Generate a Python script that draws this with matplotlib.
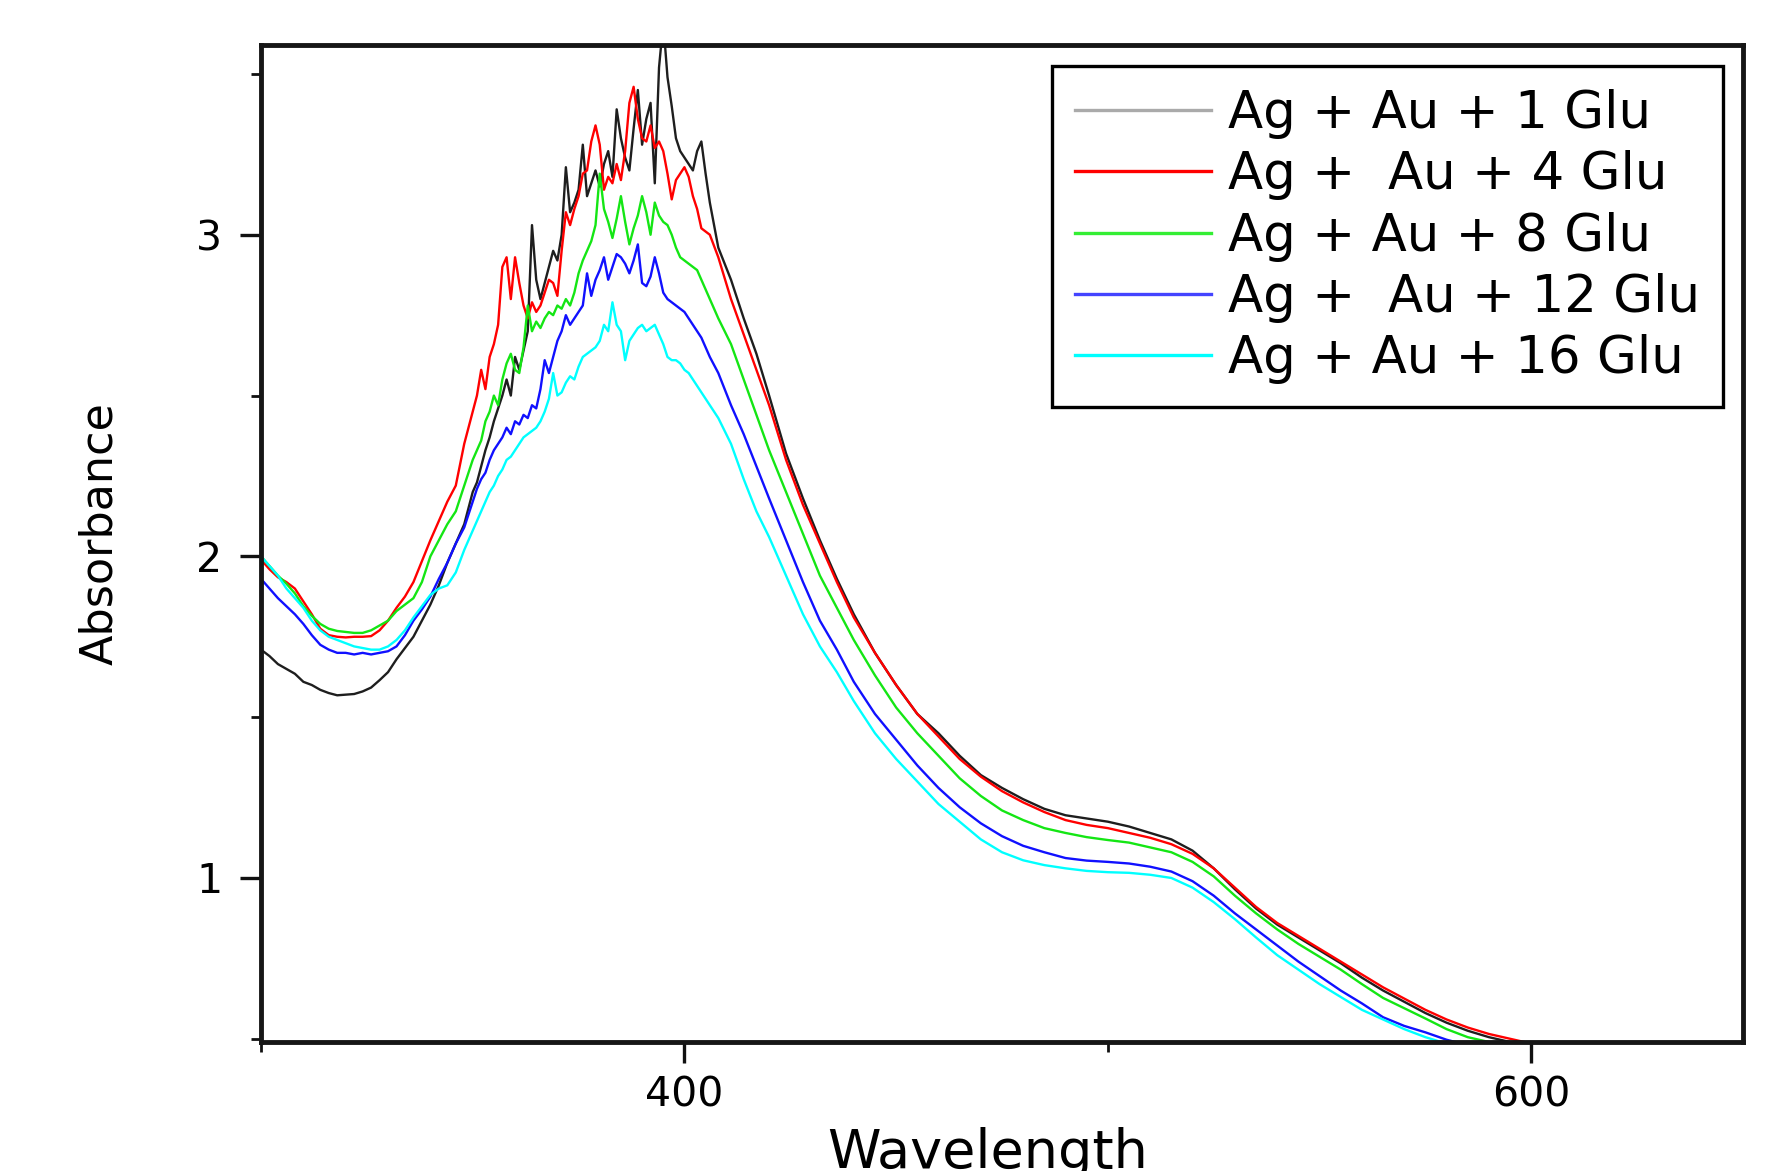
import matplotlib
matplotlib.use("Agg")
import matplotlib.pyplot as plt
from matplotlib.ticker import MultipleLocator

# wavelength grid (nm): coarse on the left, 1 nm through the noisy peak, coarse tail
wavelength = [
    300, 302, 304, 306, 308, 310, 312, 314, 316, 318, 320, 322, 324, 326, 328,
    330, 332, 334, 336, 338, 340, 342, 344, 346, 348, 350,
    351, 352, 353, 354, 355, 356, 357, 358, 359, 360, 361, 362, 363, 364, 365,
    366, 367, 368, 369, 370, 371, 372, 373, 374, 375, 376, 377, 378, 379, 380,
    381, 382, 383, 384, 385, 386, 387, 388, 389, 390, 391, 392, 393, 394, 395,
    396, 397, 398, 399, 400, 401, 402, 403, 404, 405, 406,
    408, 411, 414, 417, 420, 424, 428, 432, 436, 440,
    445, 450, 455, 460, 465, 470, 475, 480, 485, 490, 495, 500, 505, 510, 515,
    520, 525, 530, 535, 540, 545, 550, 555, 560, 565, 570, 575, 580, 585, 590,
    595, 600,
]

abs_1glu = [
    1.71, 1.69, 1.665, 1.65, 1.635, 1.61, 1.60, 1.585, 1.575, 1.568, 1.57, 1.572, 1.58,
    1.592, 1.615, 1.64, 1.68, 1.715, 1.75, 1.80, 1.85, 1.91, 1.98, 2.04, 2.10, 2.20,
    2.23, 2.28, 2.33, 2.37, 2.42, 2.46, 2.50, 2.55, 2.50, 2.62,
    2.58, 2.64, 2.70, 3.03, 2.86, 2.80, 2.85, 2.90, 2.95, 2.92,
    3.00, 3.21, 3.07, 3.10, 3.14, 3.28, 3.12, 3.16, 3.20, 3.15,
    3.22, 3.26, 3.18, 3.39, 3.30, 3.24, 3.20, 3.33, 3.45, 3.28,
    3.36, 3.41, 3.16, 3.52, 3.66, 3.49, 3.40, 3.30, 3.26, 3.24,
    3.22, 3.20, 3.26, 3.29, 3.19, 3.10,
    2.96, 2.86, 2.74, 2.63, 2.50, 2.32, 2.18, 2.05, 1.93, 1.82,
    1.70, 1.60, 1.51, 1.45, 1.38, 1.32, 1.28, 1.245, 1.215, 1.195, 1.185, 1.175,
    1.16, 1.14, 1.12, 1.085, 1.03, 0.965, 0.905, 0.855, 0.815, 0.775, 0.735, 0.69,
    0.65, 0.615, 0.58, 0.55, 0.525, 0.505, 0.49, 0.47,
]

abs_4glu = [
    1.99, 1.96, 1.935, 1.92, 1.90, 1.86, 1.82, 1.775, 1.755, 1.75, 1.748, 1.75, 1.75,
    1.752, 1.77, 1.80, 1.84, 1.875, 1.92, 1.985, 2.05, 2.11, 2.17, 2.22, 2.35, 2.45,
    2.50, 2.58, 2.52, 2.62, 2.66, 2.72, 2.90, 2.93, 2.80, 2.93,
    2.85, 2.78, 2.74, 2.79, 2.76, 2.78, 2.82, 2.86, 2.85, 2.81,
    2.95, 3.07, 3.03, 3.08, 3.12, 3.19, 3.20, 3.29, 3.34, 3.28,
    3.14, 3.18, 3.16, 3.22, 3.17, 3.26, 3.41, 3.46, 3.36, 3.30,
    3.29, 3.34, 3.27, 3.29, 3.26, 3.19, 3.11, 3.17, 3.19, 3.21,
    3.18, 3.12, 3.08, 3.02, 3.01, 3.00,
    2.93, 2.80, 2.69, 2.58, 2.47, 2.30, 2.16, 2.04, 1.92, 1.81,
    1.70, 1.60, 1.51, 1.44, 1.37, 1.315, 1.27, 1.235, 1.205, 1.18, 1.165, 1.155,
    1.14, 1.125, 1.105, 1.075, 1.03, 0.97, 0.91, 0.86, 0.82, 0.78, 0.74, 0.70,
    0.66, 0.625, 0.59, 0.56, 0.535, 0.515, 0.50, 0.485,
]

abs_8glu = [
    2.00, 1.97, 1.94, 1.915, 1.885, 1.845, 1.815, 1.79, 1.775, 1.768, 1.765, 1.762,
    1.762, 1.77, 1.785, 1.80, 1.83, 1.85, 1.87, 1.92, 2.00, 2.05, 2.10, 2.14, 2.22, 2.30,
    2.33, 2.36, 2.42, 2.45, 2.50, 2.47, 2.55, 2.60, 2.63, 2.58,
    2.57, 2.65, 2.78, 2.70, 2.73, 2.71, 2.74, 2.76, 2.75, 2.78,
    2.77, 2.80, 2.78, 2.82, 2.88, 2.92, 2.95, 2.98, 3.03, 3.19,
    3.08, 3.04, 2.99, 3.05, 3.12, 3.04, 2.97, 3.02, 3.06, 3.12,
    3.07, 3.00, 3.10, 3.06, 3.04, 3.03, 3.00, 2.96, 2.93, 2.92,
    2.91, 2.90, 2.89, 2.86, 2.83, 2.80,
    2.74, 2.66, 2.55, 2.44, 2.33, 2.20, 2.07, 1.94, 1.84, 1.74,
    1.63, 1.53, 1.45, 1.38, 1.31, 1.255, 1.21, 1.18, 1.155, 1.14, 1.127, 1.118,
    1.11, 1.095, 1.08, 1.05, 1.005, 0.945, 0.89, 0.84, 0.795, 0.755, 0.715, 0.67,
    0.627, 0.595, 0.563, 0.53, 0.505, 0.49, 0.475, 0.46,
]

abs_12glu = [
    1.93, 1.90, 1.87, 1.845, 1.82, 1.79, 1.755, 1.725, 1.71, 1.70, 1.70, 1.695, 1.70,
    1.695, 1.70, 1.705, 1.72, 1.755, 1.80, 1.835, 1.875, 1.93, 1.98, 2.04, 2.09, 2.17,
    2.21, 2.24, 2.26, 2.30, 2.33, 2.35, 2.37, 2.40, 2.38, 2.42,
    2.41, 2.44, 2.43, 2.47, 2.46, 2.52, 2.61, 2.57, 2.62, 2.67,
    2.70, 2.75, 2.72, 2.74, 2.76, 2.78, 2.88, 2.81, 2.86, 2.89,
    2.93, 2.86, 2.90, 2.94, 2.93, 2.91, 2.88, 2.92, 2.97, 2.85,
    2.84, 2.87, 2.93, 2.88, 2.82, 2.80, 2.79, 2.78, 2.77, 2.76,
    2.74, 2.72, 2.70, 2.68, 2.65, 2.62,
    2.57, 2.47, 2.38, 2.28, 2.18, 2.05, 1.92, 1.80, 1.71, 1.61,
    1.51, 1.43, 1.35, 1.28, 1.22, 1.17, 1.13, 1.10, 1.08, 1.062, 1.054, 1.05,
    1.045, 1.035, 1.02, 0.99, 0.945, 0.89, 0.84, 0.79, 0.74, 0.695, 0.65, 0.61,
    0.567, 0.54, 0.52, 0.497, 0.48, 0.465, 0.45, 0.44,
]

abs_16glu = [
    2.00, 1.97, 1.94, 1.90, 1.87, 1.84, 1.80, 1.77, 1.75, 1.74, 1.73, 1.72, 1.715,
    1.71, 1.71, 1.72, 1.74, 1.77, 1.81, 1.845, 1.88, 1.90, 1.91, 1.95, 2.02, 2.08,
    2.11, 2.14, 2.17, 2.20, 2.22, 2.25, 2.27, 2.30, 2.31, 2.33,
    2.35, 2.37, 2.38, 2.39, 2.40, 2.42, 2.45, 2.49, 2.57, 2.50,
    2.51, 2.54, 2.56, 2.55, 2.59, 2.62, 2.63, 2.64, 2.65, 2.67,
    2.72, 2.70, 2.79, 2.72, 2.70, 2.61, 2.67, 2.69, 2.71, 2.72,
    2.70, 2.71, 2.72, 2.69, 2.66, 2.62, 2.61, 2.61, 2.60, 2.58,
    2.57, 2.55, 2.53, 2.51, 2.49, 2.47,
    2.43, 2.35, 2.24, 2.14, 2.06, 1.94, 1.82, 1.72, 1.64, 1.55,
    1.45, 1.37, 1.30, 1.23, 1.175, 1.12, 1.08, 1.055, 1.04, 1.03, 1.022, 1.018,
    1.016, 1.01, 1.0, 0.97, 0.925, 0.872, 0.815, 0.76, 0.715, 0.67, 0.63, 0.59,
    0.56, 0.53, 0.505, 0.485, 0.47, 0.455, 0.44, 0.43,
]

series = [abs_1glu, abs_4glu, abs_8glu, abs_12glu, abs_16glu]
labels = [
    "Ag + Au + 1 Glu",
    "Ag +  Au + 4 Glu",
    "Ag + Au + 8 Glu",
    "Ag +  Au + 12 Glu",
    "Ag + Au + 16 Glu",
]
line_colors = ["#1e1e1e", "#ff0000", "#14e614", "#1010ff", "#00ffff"]
legend_colors = ["#aaaaaa", "#ff0000", "#33ee33", "#4444ff", "#00ffff"]

plt.rcParams["font.family"] = ["DejaVu Sans"]

fig = plt.figure(figsize=(17.75, 11.71), dpi=100, facecolor="white")
ax = fig.add_axes((261 / 1775, 1 - 1042 / 1171, 1482 / 1775, 997 / 1171))

for ys, lab, col in zip(series, labels, line_colors):
    ax.plot(wavelength, ys, color=col, linewidth=1.7, label=lab)

ax.set_xlim(300, 650)
ax.set_ylim(0.49, 3.59)

ax.xaxis.set_major_locator(MultipleLocator(200))
ax.xaxis.set_minor_locator(MultipleLocator(100))
ax.yaxis.set_major_locator(MultipleLocator(1))
ax.yaxis.set_minor_locator(MultipleLocator(0.5))

ax.tick_params(which="major", direction="out", length=15, width=2.4,
               labelsize=29.5, color="#111111")
ax.tick_params(which="minor", direction="out", length=7, width=2.0, color="#111111")
ax.tick_params(axis="x", which="major", pad=9)
ax.tick_params(axis="y", which="major", pad=13)

for sp in ax.spines.values():
    sp.set_linewidth(3.5)
    sp.set_color("#161616")

ax.set_xlabel("Wavelength", fontsize=39)
ax.xaxis.set_label_coords(0.4905, -0.0855)
ax.set_ylabel("Absorbance", fontsize=32)
ax.yaxis.set_label_coords(-0.1086, 0.5095)
ax.yaxis.label.set_verticalalignment("center")

leg = ax.legend(
    loc="upper right",
    bbox_to_anchor=(0.9865, 0.979),
    borderaxespad=0,
    fontsize=37,
    frameon=True,
    fancybox=False,
    framealpha=1,
    edgecolor="black",
    handlelength=2.65,
    handletextpad=0.32,
    labelspacing=0.22,
    borderpad=0.45,
)
leg.get_frame().set_linewidth(2.4)
for h, c in zip(leg.get_lines(), legend_colors):
    h.set_color(c)
    h.set_linewidth(2.4)

fig.savefig("out.png", dpi=100, facecolor="white")
